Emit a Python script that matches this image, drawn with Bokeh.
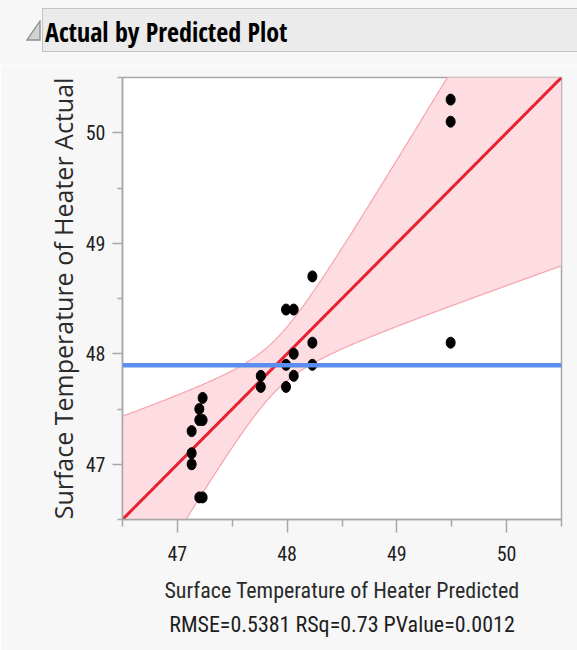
import numpy as np
from bokeh.plotting import figure
from bokeh.models import Div, Span, FixedTicker, Range1d, Title
from bokeh.layouts import column
from bokeh.embed import file_html
from bokeh.resources import INLINE

# ---- data ----
predicted = [47.99, 48.06, 48.23, 48.23, 48.23, 48.06, 47.99, 48.06, 47.99, 47.76, 47.76,
             47.23, 47.20, 47.20, 47.23, 47.13, 47.13, 47.13, 47.20, 47.23, 49.49, 49.49, 49.49]
actual = [48.4, 48.4, 48.7, 48.1, 47.9, 48.0, 47.9, 47.8, 47.7, 47.8, 47.7,
          47.6, 47.5, 47.4, 47.4, 47.3, 47.1, 47.0, 46.7, 46.7, 50.3, 50.1, 48.1]
major_ticks = [47, 48, 49, 50]
minor_ticks = [46.5, 47.5, 48.5, 49.5, 50.5]
axis_min, axis_max = 46.5, 50.5
# confidence-curve shape: half-width^2 = band_a + band_b*(x - mean)^2
band_a = 0.055
band_b = 0.42
title_text = "Actual by Predicted Plot"
x_label = "Surface Temperature of Heater Predicted"
y_label = "Surface Temperature of Heater Actual"
stats_text = "RMSE=0.5381 RSq=0.73 PValue=0.0012"

mean_actual = float(np.mean(actual))
grid = np.linspace(axis_min, axis_max, 400)
half = np.sqrt(band_a + band_b * (grid - mean_actual) ** 2)
upper = grid + half
lower = grid - half

BG = "#f7f7f7"
TXT = "#1e1e1e"

header = Div(
    text=(
        '<div style="position:relative;width:577px;height:65px;background:%s;overflow:hidden;">'
        '<svg style="position:absolute;left:26px;top:20px" width="16" height="22">'
        '<polygon points="14,1 14,20 1,20" fill="#d2d2d2" stroke="#8e8e8e" stroke-width="1.3"/></svg>'
        '<div style="position:absolute;left:42px;top:8px;width:560px;height:44px;background:#ebebeb;'
        'border:1px solid #c4c4c4;"></div>'
        '<div style="position:absolute;left:45px;top:19px;font-family:\'Open Sans Condensed\';font-weight:bold;'
        'font-size:26px;line-height:1;color:#000;white-space:nowrap;">%s</div>'
        '</div>' % (BG, title_text)
    ),
    width=577, height=65, margin=0,
)

p = figure(width=577, height=585, output_backend="svg", toolbar_location=None,
           x_range=Range1d(axis_min, axis_max), y_range=Range1d(axis_min, axis_max),
           min_border_left=122, min_border_right=16, min_border_top=12, min_border_bottom=131)
p.background_fill_color = "white"
p.border_fill_color = BG
p.outline_line_color = "#a8a8a8"
p.outline_line_width = 1.5
p.grid.visible = False

# confidence band
p.varea(x=grid, y1=lower, y2=upper, fill_color="#fddde2", fill_alpha=1.0)
p.line(grid, upper, line_color="#f7a3ae", line_width=1.2)
p.line(grid, lower, line_color="#f7a3ae", line_width=1.2)
# fit line (actual = predicted)
p.line(grid, grid, line_color="#e8202f", line_width=3)
# mean line
p.add_layout(Span(location=mean_actual, dimension="width", line_color="#5b8ef0", line_width=4.5))
# points
p.ellipse(x=predicted, y=actual, width=9, height=11, width_units="screen", height_units="screen",
          fill_color="black", line_color="black")

for ax in (p.xaxis[0], p.yaxis[0]):
    ax.ticker = FixedTicker(ticks=major_ticks, minor_ticks=minor_ticks)
    ax.axis_line_color = "#a8a8a8"
    ax.axis_line_width = 1.5
    ax.major_tick_line_color = "#a8a8a8"
    ax.minor_tick_line_color = "#a8a8a8"
    ax.major_tick_line_width = 1.5
    ax.minor_tick_line_width = 1.5
    ax.major_tick_in = 0
    ax.minor_tick_in = 0
    ax.major_label_text_font = "Roboto Condensed"
    ax.major_label_text_font_size = "20px"
    ax.major_label_text_color = TXT
    ax.axis_label_text_font_style = "normal"
    ax.axis_label_text_color = "#2a2a2a"

p.xaxis.major_tick_out = 13
p.xaxis.minor_tick_out = 7
p.yaxis.major_tick_out = 10
p.yaxis.minor_tick_out = 5
p.xaxis.major_label_standoff = 13
p.yaxis.major_label_standoff = 7

p.xaxis.axis_label = x_label
p.xaxis.axis_label_text_font = "Roboto Condensed"
p.xaxis.axis_label_text_font_size = "22px"
p.xaxis.axis_label_standoff = 14

p.yaxis.axis_label = y_label
p.yaxis.axis_label_text_font = "Open Sans"
p.yaxis.axis_label_text_font_size = "25px"
p.yaxis.axis_label_standoff = 3

stats = Title(text=stats_text, align="center", text_font="Roboto Condensed", text_font_size="22px",
              text_font_style="normal", text_color=TXT, standoff=8)
p.add_layout(stats, "below")

layout = column(header, p, spacing=0)
open("out.html", "w").write(file_html(layout, INLINE))
